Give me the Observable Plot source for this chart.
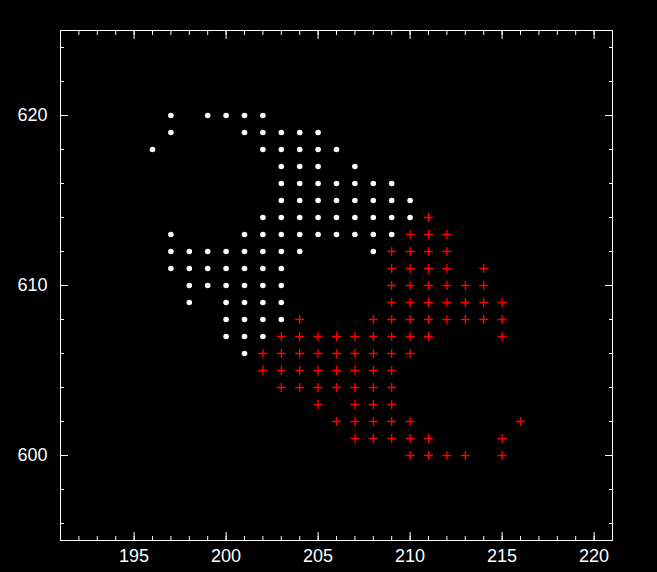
<!DOCTYPE html>
<html>
<head>
<meta charset="utf-8">
<script src="https://cdn.jsdelivr.net/npm/d3@7"></script>
<script src="https://cdn.jsdelivr.net/npm/@observablehq/plot@0.6"></script>
<style>
  html, body { margin: 0; padding: 0; background: #000; }
</style>
</head>
<body>
<div id="chart"></div>
<script>
// White dots: [x, y]
const whitePoints = [
  [197,620],[199,620],[200,620],[201,620],[202,620],
  [197,619],[201,619],[202,619],[203,619],[204,619],[205,619],
  [196,618],[202,618],[203,618],[204,618],[205,618],[206,618],
  [203,617],[204,617],[205,617],[207,617],
  [203,616],[204,616],[205,616],[206,616],[207,616],[208,616],[209,616],
  [203,615],[204,615],[205,615],[206,615],[207,615],[208,615],[209,615],[210,615],
  [202,614],[203,614],[204,614],[205,614],[206,614],[207,614],[208,614],[209,614],[210,614],
  [197,613],[201,613],[202,613],[203,613],[204,613],[205,613],[206,613],[207,613],[208,613],[209,613],
  [197,612],[198,612],[199,612],[200,612],[201,612],[202,612],[203,612],[204,612],[208,612],
  [197,611],[198,611],[199,611],[200,611],[201,611],[202,611],[203,611],
  [198,610],[199,610],[200,610],[201,610],[202,610],[203,610],
  [198,609],[200,609],[201,609],[202,609],[203,609],
  [200,608],[201,608],[202,608],[203,608],
  [200,607],[201,607],[202,607],
  [201,606]
];

// Red crosses: [x, y]
const redPoints = [
  [211,614],
  [210,613],[211,613],[212,613],
  [209,612],[210,612],[211,612],[212,612],
  [209,611],[210,611],[211,611],[212,611],[214,611],
  [209,610],[210,610],[211,610],[212,610],[213,610],[214,610],
  [209,609],[210,609],[211,609],[212,609],[213,609],[214,609],[215,609],
  [204,608],[208,608],[209,608],[210,608],[211,608],[212,608],[213,608],[214,608],[215,608],
  [203,607],[204,607],[205,607],[206,607],[207,607],[208,607],[209,607],[210,607],[211,607],[215,607],
  [202,606],[203,606],[204,606],[205,606],[206,606],[207,606],[208,606],[209,606],[210,606],
  [202,605],[203,605],[204,605],[205,605],[206,605],[207,605],[208,605],[209,605],
  [203,604],[204,604],[205,604],[206,604],[207,604],[208,604],[209,604],
  [205,603],[207,603],[208,603],[209,603],
  [206,602],[207,602],[208,602],[209,602],[210,602],[216,602],
  [207,601],[208,601],[209,601],[210,601],[211,601],[215,601],
  [210,600],[211,600],[212,600],[213,600],[215,600]
];

const xMajor = [195, 200, 205, 210, 215, 220];
const xMinor = d3.range(191, 222, 1);
const yMajor = [600, 610, 620];
const yMinor = d3.range(596, 625, 2);

const thinCross = {
  draw(ctx, size) {
    const r = Math.sqrt(size / Math.PI);
    ctx.moveTo(-r, 0); ctx.lineTo(r, 0);
    ctx.moveTo(0, -r); ctx.lineTo(0, r);
  }
};

const blank = () => "";

const chart = Plot.plot({
  width: 657,
  height: 572,
  marginLeft: 60,
  marginRight: 45,
  marginTop: 30,
  marginBottom: 32,
  style: {background: "#000", color: "#fff", fontSize: "18px", fontFamily: "Liberation Sans, Arial, sans-serif"},
  x: {domain: [191, 221], label: null},
  y: {domain: [595, 625], label: null},
  marks: [
    // minor ticks
    Plot.axisX({anchor: "bottom", ticks: xMinor, tickSize: -4, tickFormat: blank, label: null, stroke: "#fff"}),
    Plot.axisX({anchor: "top", ticks: xMinor, tickSize: -4, tickFormat: blank, label: null, stroke: "#fff"}),
    Plot.axisY({anchor: "left", ticks: yMinor, tickSize: -4, tickFormat: blank, label: null, stroke: "#fff"}),
    Plot.axisY({anchor: "right", ticks: yMinor, tickSize: -4, tickFormat: blank, label: null, stroke: "#fff"}),
    // major ticks
    Plot.axisX({anchor: "bottom", ticks: xMajor, tickSize: -8, tickFormat: blank, label: null, stroke: "#fff"}),
    Plot.axisX({anchor: "top", ticks: xMajor, tickSize: -8, tickFormat: blank, label: null, stroke: "#fff"}),
    Plot.axisY({anchor: "left", ticks: yMajor, tickSize: -8, tickFormat: blank, label: null, stroke: "#fff"}),
    Plot.axisY({anchor: "right", ticks: yMajor, tickSize: -8, tickFormat: blank, label: null, stroke: "#fff"}),
    // labels
    Plot.axisX({anchor: "bottom", ticks: xMajor, tickSize: 0, tickPadding: 9, label: null, fill: "#fff", fontSize: 18}),
    Plot.axisY({anchor: "left", ticks: yMajor, tickSize: 0, tickPadding: 13, label: null, fill: "#fff", fontSize: 18}),
    Plot.frame({stroke: "#fff", strokeWidth: 1}),
    Plot.dot(whitePoints, {x: d => d[0], y: d => d[1], r: 2.8, fill: "#fff", stroke: "none"}),
    Plot.dot(redPoints, {x: d => d[0], y: d => d[1], r: 4.5, symbol: thinCross, fill: "none", stroke: "#ff0000", strokeWidth: 1.3})
  ]
});

document.getElementById("chart").appendChild(chart);
</script>
</body>
</html>
